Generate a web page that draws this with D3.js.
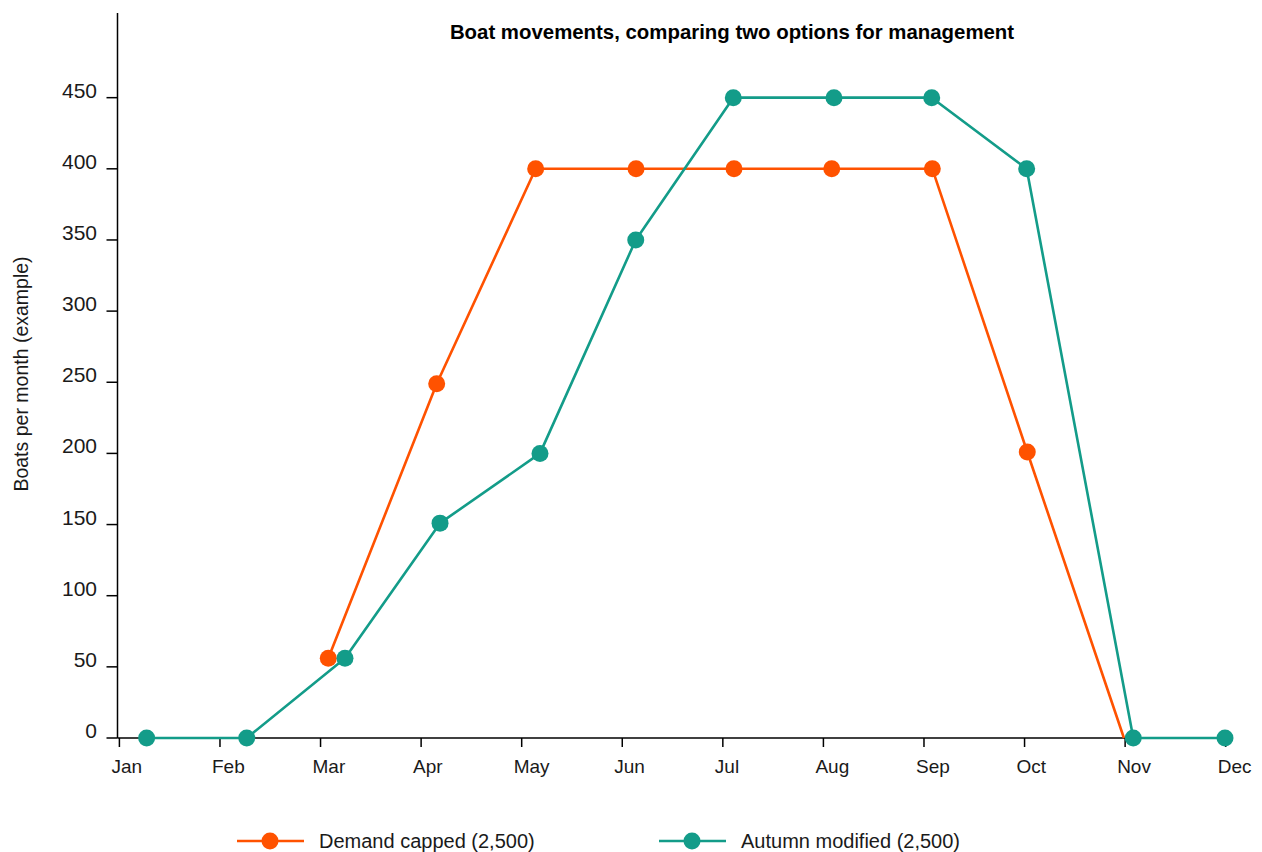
<!DOCTYPE html>
<html>
<head>
<meta charset="utf-8">
<script src="https://cdn.jsdelivr.net/npm/d3@7"></script>
<style>
  html, body { margin: 0; padding: 0; background: #fff; }
  svg { display: block; font-family: "Liberation Sans", Arial, Helvetica, sans-serif; }
</style>
</head>
<body>
<svg id="chart" width="1262" height="852"></svg>
<script>
// Month tick labels
const months = ["Jan", "Feb", "Mar", "Apr", "May", "Jun", "Jul", "Aug", "Sep", "Oct", "Nov", "Dec"];

// Y axis ticks
const yTicks = [0, 50, 100, 150, 200, 250, 300, 350, 400, 450];

// Demand capped (2,500): position in months from Jan, boats per month
const cappedMonth = [2.077, 3.155, 4.139, 5.137, 6.111, 7.083, 8.083, 9.027, 9.988];
const cappedBoats = [56, 249, 400, 400, 400, 400, 400, 201, 0];

// Autumn modified (2,500)
const autumnMonth = [0.271, 1.266, 2.243, 3.188, 4.182, 5.134, 6.104, 7.105, 8.077, 9.021, 10.081, 10.993];
const autumnBoats = [0, 0, 56, 151, 200, 350, 450, 450, 450, 400, 0, 0];

const seriesNames = ["Demand capped (2,500)", "Autumn modified (2,500)"];
const seriesColors = ["#ff5200", "#139c89"];

const svg = d3.select("#chart");
const axisX = 117.5, axisY = 738, axisTop = 13, axisRight = 1180;

const x = d3.scaleLinear().domain([0, 11]).range([119.4, 1225.7]);
const y = d3.scaleLinear().domain([0, 509.5]).range([axisY, axisTop]);

const textColor = "#1a1a1a";

// Title
svg.append("text")
  .attr("x", 732).attr("y", 39)
  .attr("text-anchor", "middle")
  .attr("font-size", 20.4).attr("font-weight", "bold")
  .attr("fill", "#000")
  .text("Boat movements, comparing two options for management");

// Y axis title
svg.append("text")
  .attr("transform", `translate(28,374) rotate(-90)`)
  .attr("text-anchor", "middle")
  .attr("font-size", 19.5)
  .attr("fill", textColor)
  .text("Boats per month (example)");

// Y axis
const gy = svg.append("g");
gy.append("line")
  .attr("x1", axisX).attr("x2", axisX)
  .attr("y1", axisTop).attr("y2", axisY)
  .attr("stroke", "#000").attr("stroke-width", 1.5);
gy.selectAll(".ytick").data(yTicks).join("line")
  .attr("x1", axisX - 11).attr("x2", axisX)
  .attr("y1", d => y(d)).attr("y2", d => y(d))
  .attr("stroke", "#000").attr("stroke-width", 1.5);
gy.selectAll(".ylab").data(yTicks).join("text")
  .attr("x", 97).attr("y", d => y(d))
  .attr("text-anchor", "end")
  .attr("font-size", 21)
  .attr("fill", textColor)
  .text(d => d);

// X axis
const gx = svg.append("g");
gx.append("line")
  .attr("x1", axisX).attr("x2", axisRight)
  .attr("y1", axisY).attr("y2", axisY)
  .attr("stroke", "#000").attr("stroke-width", 1.5);
gx.selectAll(".xtick").data(months).join("line")
  .attr("x1", (d, i) => x(i)).attr("x2", (d, i) => x(i))
  .attr("y1", axisY).attr("y2", axisY + 9)
  .attr("stroke", "#000").attr("stroke-width", 1.5);
gx.selectAll(".xlab").data(months).join("text")
  .attr("x", (d, i) => x(i) - 8).attr("y", 772.5)
  .attr("text-anchor", "start")
  .attr("font-size", 19)
  .attr("fill", textColor)
  .text(d => d);

// Series
const series = [
  { pts: cappedMonth.map((m, i) => [m, cappedBoats[i]]), markLast: false },
  { pts: autumnMonth.map((m, i) => [m, autumnBoats[i]]), markLast: true }
];

const line = d3.line().x(d => x(d[0])).y(d => y(d[1]));

series.forEach((s, k) => {
  const g = svg.append("g");
  g.append("path")
    .attr("d", line(s.pts))
    .attr("fill", "none")
    .attr("stroke", seriesColors[k])
    .attr("stroke-width", 2.6)
    .attr("stroke-linejoin", "round");
  const marked = s.markLast ? s.pts : s.pts.slice(0, -1);
  g.selectAll("circle").data(marked).join("circle")
    .attr("cx", d => x(d[0])).attr("cy", d => y(d[1]))
    .attr("r", 8.5)
    .attr("fill", seriesColors[k]);
});

// Legend
const legendX = [237, 659];
const lg = svg.append("g");
seriesNames.forEach((name, k) => {
  const lx = legendX[k], ly = 841;
  lg.append("line")
    .attr("x1", lx).attr("x2", lx + 67)
    .attr("y1", ly).attr("y2", ly)
    .attr("stroke", seriesColors[k]).attr("stroke-width", 2.6);
  lg.append("circle")
    .attr("cx", lx + 33).attr("cy", ly).attr("r", 8.5)
    .attr("fill", seriesColors[k]);
  lg.append("text")
    .attr("x", lx + 82).attr("y", ly + 7)
    .attr("font-size", 20)
    .attr("fill", textColor)
    .text(name);
});
</script>
</body>
</html>
